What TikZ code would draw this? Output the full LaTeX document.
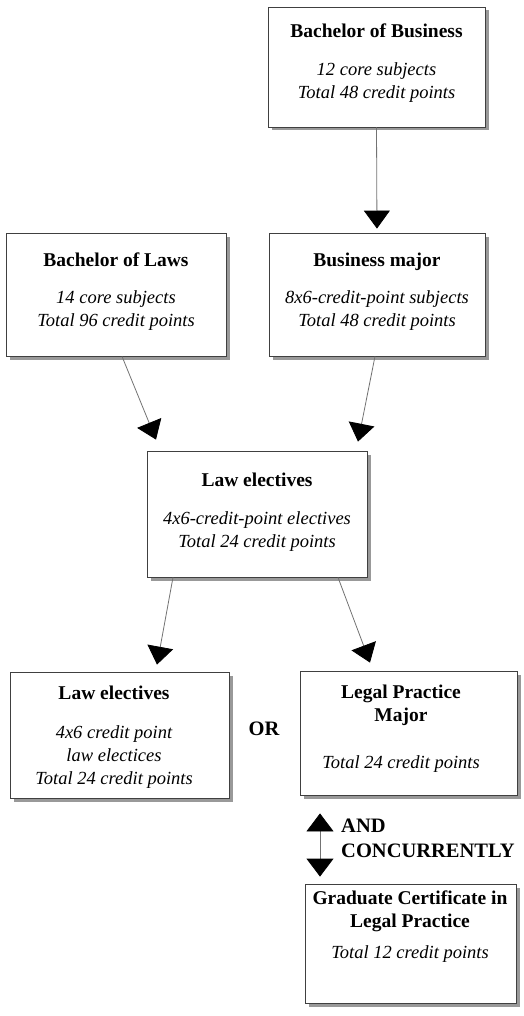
\documentclass[tikz,border=0pt]{standalone}
\usepackage{fontspec}
\setmainfont{Liberation Serif}
\usetikzlibrary{arrows.meta,shadows}
\newcommand{\ttlfont}{\usefont{TU}{\rmdefault}{b}{n}\fontsize{19.5}{23}\selectfont}
\begin{document}
\begin{tikzpicture}[x=1pt,y=-1pt,
  box/.style={draw=black!75, line width=0.8pt, fill=white,
    general shadow={fill=black!40, shadow xshift=3.5pt, shadow yshift=-3.5pt}},
  txt/.style={align=center, anchor=base, inner sep=0pt,
    font=\fontsize{18.5}{23}\selectfont\itshape},
  lbl/.style={inner sep=0pt, font=\fontsize{20.5}{25}\selectfont\bfseries},
  conn/.style={draw=black!55, line width=0.8pt, -{Triangle[length=18pt,width=26pt,color=black]}},
  dconn/.style={draw=black!55, line width=0.8pt, {Triangle[length=18pt,width=27pt,color=black]}-{Triangle[length=18pt,width=27pt,color=black]}}]
\useasboundingbox (0,0) rectangle (524,1016);
% boxes
\node[box, minimum width=217pt, minimum height=120pt] (bb)   at (376.5,67)  {};
\node[box, minimum width=220pt, minimum height=123pt] (bol)  at (116,294.5) {};
\node[box, minimum width=216pt, minimum height=123pt] (bm)   at (377,294.5) {};
\node[box, minimum width=220pt, minimum height=126pt] (le)   at (257,514)   {};
\node[box, minimum width=219pt, minimum height=126pt] (le2)  at (119.5,735) {};
\node[box, minimum width=217pt, minimum height=124pt] (lpm)  at (408.5,733) {};
\node[box, minimum width=211pt, minimum height=119pt] (grad) at (410.5,943.5) {};
% texts (anchored at the baseline of the last line)
\node[txt] (tbb) at (376.5,99) {{\ttlfont Bachelor of Business}\\[15pt]12 core subjects\\Total 48 credit points};
\node[txt] (tbol) at (116,326) {{\ttlfont Bachelor of Laws}\\[14pt]14 core subjects\\Total 96 credit points};
\node[txt] (tbm) at (377,326) {{\ttlfont Business major}\\[14pt]8x6-credit-point subjects\\Total 48 credit points};
\node[txt] (tle) at (257,547) {{\ttlfont Law electives}\\[15pt]4x6-credit-point electives\\Total 24 credit points};
\node[txt] (tle2) at (114,784) {{\ttlfont Law electives}\\[16pt]4x6 credit point\\law electices\\Total 24 credit points};
\node[txt] (tlpm) at (401,768) {{\ttlfont Legal Practice}\\{\ttlfont Major}\\[24pt]Total 24 credit points};
\node[txt] (tgrad) at (410,958) {{\ttlfont Graduate Certificate in}\\{\ttlfont Legal Practice}\\[8pt]Total 12 credit points};
\node[lbl, anchor=base] (or) at (264,735) {OR};
\node[lbl, anchor=base west, align=left] (and) at (341,857) {AND\\CONCURRENTLY};
% connectors
\draw[conn, shorten >=4pt] (bb.south) -- (bm.north);
\draw[conn] ([xshift=6pt]bol.south) -- ([xshift=-101pt,yshift=11pt]le.north);
\draw[conn] ([xshift=-2pt]bm.south) -- ([xshift=101pt,yshift=9pt]le.north);
\draw[conn] ([xshift=-84pt]le.south) -- ([xshift=37.5pt,yshift=7pt]le2.north);
\draw[conn] ([xshift=81pt]le.south) -- ([xshift=-38.5pt,yshift=8pt]lpm.north);
\draw[dconn] ([xshift=-88.5pt,yshift=-18pt]lpm.south) -- ([xshift=-90.5pt,yshift=7pt]grad.north);
\end{tikzpicture}
\end{document}
